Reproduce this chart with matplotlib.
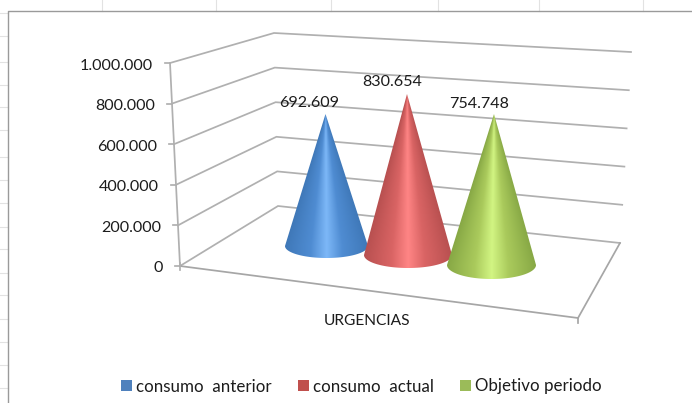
#!/usr/bin/env python3
"""Consumption per period for URGENCIAS, drawn as a 3D-style cone chart."""

from __future__ import annotations

import numpy as np

import matplotlib
matplotlib.use("Agg")
import matplotlib.pyplot as plt
from matplotlib.colors import to_rgb
from matplotlib.patches import Polygon, Rectangle

plt.rcParams["font.family"] = ["Lato", "DejaVu Sans"]

category = "URGENCIAS"
series_names = ["consumo  anterior", "consumo  actual", "Objetivo periodo"]
series_values = [692609, 830654, 754748]
tick_values = [0, 200000, 400000, 600000, 800000, 1000000]

WIDTH, HEIGHT = 692, 403
LINE = "#b0b0b0"
TEXT = "#1c1c1c"
VMAX = 1000000

# Wall edges in pixels: (x, y) at value 0 and (x, y) at the axis maximum
FRONT_EDGE = ((180, 266), (170, 63))
BACK_EDGE = ((278, 206), (274, 33))
RIGHT_EDGE = ((620, 243), (631, 52))
FLOOR_FRONT_RIGHT = (578, 318)

# Cone placement on the floor, with the height scale at that depth
CONE_CX = [326.5, 408, 491.5]
CONE_CY = [246, 255, 265]
CONE_RX = [41.5, 44, 44.5]
CONE_RY = [12, 13, 14]
CONE_LEAN = [-1, -1, 2.5]
CONE_PX_PER_UNIT = [0.0001906, 0.0001938, 0.0002]

SHADES = [
    ("#7db8f8", "#4f8cd2", "#3f78b8"),
    ("#ff8585", "#d96464", "#b85050"),
    ("#d2f583", "#aaca5c", "#87a845"),
]
SWATCHES = ["#4f81bd", "#c0504d", "#9bbb59"]
LEGEND_X = [121, 298, 460]
LABEL_POS = [(309, 103), (392, 82), (479, 104)]


def edge_point(edge, value):
    (x0, y0), (x1, y1) = edge
    t = value / VMAX
    return x0 + (x1 - x0) * t, y0 + (y1 - y0) * t


def thousands(value):
    return f"{value:,}".replace(",", ".")


def draw_sheet_grid(ax):
    # Spreadsheet cell lines showing around the chart object
    for x in [102, 216, 331, 438, 539, 643]:
        ax.plot([x, x], [0, 11], color="#e2e2e2", lw=0.8)
    for y in [13, 36, 62, 85, 107, 130, 157, 180, 203, 227, 249, 273, 295, 319, 342, 365, 388]:
        ax.plot([0, 8], [y, y], color="#e2e2e2", lw=0.8)
    ax.plot([8, 8, WIDTH], [HEIGHT, 11, 11], color="#9a9a9a", lw=1.0)


def draw_walls(ax):
    for value in tick_values:
        front = edge_point(FRONT_EDGE, value)
        back = edge_point(BACK_EDGE, value)
        right = edge_point(RIGHT_EDGE, value)
        ax.plot([front[0], back[0], right[0]], [front[1], back[1], right[1]],
                color=LINE, lw=1.25, solid_joinstyle="miter")
        ax.plot([front[0] - 5, front[0]], [front[1], front[1]], color=LINE, lw=1.25)
        ax.text(front[0] - 17, front[1] + 2.5, thousands(value), ha="right", va="center",
                fontsize=11.6, color=TEXT)

    front0 = edge_point(FRONT_EDGE, 0)
    front1 = edge_point(FRONT_EDGE, VMAX)
    right0 = edge_point(RIGHT_EDGE, 0)
    ax.plot([front0[0], front1[0]], [front0[1], front1[1]], color=LINE, lw=1.25)
    ax.plot([front0[0], FLOOR_FRONT_RIGHT[0], right0[0]],
            [front0[1], FLOOR_FRONT_RIGHT[1], right0[1]],
            color="#a6a6a6", lw=1.25, solid_joinstyle="miter")
    ax.plot([FLOOR_FRONT_RIGHT[0]] * 2, [FLOOR_FRONT_RIGHT[1], FLOOR_FRONT_RIGHT[1] + 5],
            color="#a6a6a6", lw=1.25)
    ax.plot([front0[0]] * 2, [front0[1] - 3, front0[1] + 4], color=LINE, lw=1.25)


def draw_cone(ax, value, cx, cy, rx, ry, lean, scale, shades, zorder):
    apex_x = cx + lean
    apex_y = cy - value * scale

    # Shade by angle around the cone, so the highlight narrows towards the apex
    xs = np.arange(cx - rx - 2, cx + rx + 2, 0.5)
    ys = np.arange(apex_y - 1, cy + ry + 2, 0.5)
    xx, yy = np.meshgrid(xs, ys)
    frac = np.clip((yy - apex_y) / (cy - apex_y), 0.002, 1.0)
    centre = apex_x + (cx - apex_x) * frac
    u = np.abs(xx - centre) / (rx * frac)
    stops = np.array([to_rgb(c) for c in shades])
    rgb = np.stack(
        [np.interp(u, [0.0, 0.38, 1.0], stops[:, i]) for i in range(3)], axis=-1
    )
    image = ax.imshow(rgb, extent=(xs[0], xs[-1], ys[-1], ys[0]), aspect="auto",
                      interpolation="bilinear", zorder=zorder)

    theta = np.linspace(0, np.pi, 80)
    rim = np.column_stack([cx + rx * np.cos(theta), cy + ry * np.sin(theta)])
    outline = np.vstack([[apex_x, apex_y], rim])
    clip = Polygon(outline, closed=True, transform=ax.transData)
    image.set_clip_path(clip)


def draw_legend(ax):
    y = 385
    for x, name, colour in zip(LEGEND_X, series_names, SWATCHES):
        ax.add_patch(Rectangle((x, y - 5.5), 11, 11, facecolor=colour, edgecolor="none"))
        ax.text(x + 15, y + 1.5, name, ha="left", va="center", fontsize=12.2, color=TEXT)


def main() -> int:
    fig = plt.figure(figsize=(WIDTH / 100, HEIGHT / 100), dpi=100)
    ax = fig.add_axes([0, 0, 1, 1])

    draw_sheet_grid(ax)
    draw_walls(ax)

    cones = zip(series_values, CONE_CX, CONE_CY, CONE_RX, CONE_RY, CONE_LEAN,
                CONE_PX_PER_UNIT, SHADES)
    for idx, (value, cx, cy, rx, ry, lean, scale, shades) in enumerate(cones):
        draw_cone(ax, value, cx, cy, rx, ry, lean, scale, shades, 3 + idx)

    for value, (x, y) in zip(series_values, LABEL_POS):
        ax.text(x, y, thousands(value), ha="center", va="center", fontsize=11.6,
                color=TEXT, zorder=10)

    ax.text(367, 321, category, ha="center", va="center", fontsize=11.2, color=TEXT)
    draw_legend(ax)

    ax.set_xlim(0, WIDTH)
    ax.set_ylim(HEIGHT, 0)
    ax.axis("off")

    fig.savefig("out.png", dpi=100, facecolor="white")
    return 0


if __name__ == "__main__":
    raise SystemExit(main())
